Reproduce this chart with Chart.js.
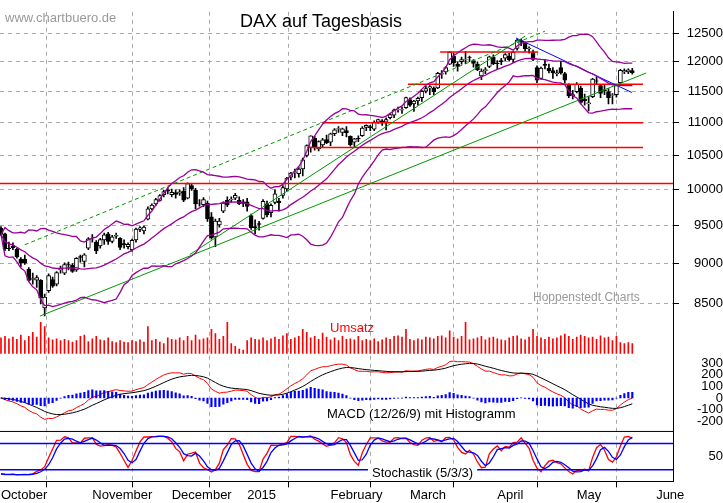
<!DOCTYPE html>
<html>
<head>
<meta charset="utf-8">
<script src="https://cdn.jsdelivr.net/npm/chart.js@4"></script>
<style>
  body { margin: 0; background: #fff; }
  #wrap { width: 723px; height: 503px; }
</style>
</head>
<body>
<div id="wrap"><canvas id="c" width="723" height="503"></canvas></div>
<script>
// trading days Oct 1 2014 .. May 22 2015 (index 0..159)
const opens = [
  // Oct
  9470,9390,9200,9230,9190,9060,9060,8930,8800,8790,8790,8450,8660,8800,8740,8920,8880,8990,8980,8920,9090,9030,9200,
  // Nov
  9320,9280,9230,9310,9390,9290,9360,9330,9260,9220,9180,9310,9450,9430,9590,9730,9800,9850,9930,9990,
  // Dec
  9930,9960,9950,9980,9880,10060,9990,9800,9790,9810,9620,9350,9510,9700,9850,9860,9880,9850,9830,
  // Jan
  9830,9640,9490,9530,9600,9800,9680,9820,9840,9920,10010,10180,10250,10230,10300,10500,10620,10760,10600,10660,10740,
  // Feb
  10700,10830,10900,10850,10880,10790,10700,10760,10800,10930,10940,10900,11010,11030,11010,11080,11120,11210,11200,11240,
  // Mar
  11370,11300,11350,11400,11510,11560,11560,11560,11790,11830,11960,12100,11960,12000,12030,12080,12020,11960,11760,11850,11920,12080,
  // Apr
  11980,12020,12060,12100,12040,12230,12370,12330,12220,12160,11900,11720,11960,11890,11850,11800,11900,11800,11610,11430,
  // May
  11500,11560,11380,11300,11420,11680,11600,11530,11500,11440,11450,11650,11830,11830,11850
];
const highs = [
  9490,9400,9280,9270,9200,9080,9110,8950,8880,8850,8800,8620,8870,8830,8900,8970,9010,9020,9000,9080,9110,9130,9340,
  9380,9300,9330,9400,9410,9370,9400,9340,9310,9270,9320,9470,9490,9500,9760,9800,9880,9930,9990,10030,
  10010,10000,10000,10030,10100,10090,10020,9860,9890,9840,9680,9590,9600,9830,9900,9900,9950,9900,9860,
  9880,9660,9580,9560,9860,9840,9800,10000,9880,10060,10180,10250,10300,10320,10460,10660,10800,10790,10720,10760,10810,
  10840,10910,10940,10920,10940,10800,10760,10800,10940,10970,10960,11030,11060,11050,11080,11140,11220,11250,11250,11410,
  11400,11360,11410,11520,11590,11600,11580,11820,11850,11920,12170,12150,12000,12080,12180,12100,12040,12000,11880,11900,12100,12120,
  12020,12060,12140,12150,12180,12390,12390,12340,12260,12200,11930,11910,12040,11960,11900,11860,12010,11820,11630,11520,
  11650,11590,11460,11420,11720,11750,11620,11610,11550,11470,11620,11870,11880,11880,11890
];
const lows = [
  9370,9170,9170,9180,9070,8960,8990,8780,8740,8700,8500,8355,8640,8700,8720,8880,8860,8920,8890,8900,9020,8960,9180,
  9280,9130,9200,9250,9250,9270,9330,9180,9200,9190,9160,9280,9420,9390,9580,9720,9780,9840,9900,9940,
  9900,9880,9920,9830,9870,9990,9730,9770,9760,9560,9320,9220,9480,9680,9760,9820,9860,9790,9760,
  9700,9450,9390,9440,9590,9620,9620,9800,9700,9880,9980,10140,10170,10180,10200,10480,10550,10580,10570,10620,10680,
  10650,10800,10850,10800,10780,10640,10620,10710,10790,10880,10880,10880,10990,10960,10890,11060,11080,11170,11150,11230,
  11260,11180,11280,11340,11480,11450,11450,11550,11720,11790,11950,11920,11840,11960,11970,12000,11910,11850,11700,11800,11900,11950,
  11880,11950,12020,12010,11990,12200,12280,12180,12150,12020,11650,11710,11880,11810,11720,11760,11790,11640,11400,11380,
  11480,11300,11280,11190,11400,11620,11400,11450,11300,11300,11410,11640,11800,11800,11790
];
const closes = [
  9382,9195,9196,9209,9086,9005,9005,8788,8812,8825,8572,8582,8850,8717,8887,8940,8987,8988,8902,9068,9082,9114,9326,
  9325,9166,9315,9377,9291,9351,9370,9210,9248,9252,9306,9456,9473,9483,9733,9785,9861,9916,9974,9980,
  9963,9934,9971,9851,10087,10014,9799,9799,9862,9594,9335,9563,9564,9811,9787,9865,9922,9805,9806,
  9765,9473,9469,9518,9837,9648,9781,9941,9817,10032,10167,10242,10257,10299,10435,10649,10798,10628,10710,10738,10694,
  10828,10891,10911,10905,10846,10664,10753,10752,10920,10963,10924,11014,11050,11002,11051,11131,11206,11211,11210,11402,
  11280,11345,11390,11504,11551,11582,11500,11806,11799,11901,12168,11980,11922,12037,12040,12077,11973,11865,11843,11869,12086,11967,
  11968,12002,12124,12036,12166,12375,12339,12228,12231,12039,11688,11892,11939,11847,11811,11811,11811,11689,11432,11454,
  11622,11327,11350,11317,11709,11673,11472,11511,11401,11448,11598,11853,11849,11864,11815
];
const volume = [
  55,60,52,58,50,65,45,60,75,58,110,95,55,48,52,45,50,45,40,45,60,65,42,
  52,60,48,45,55,42,38,45,40,38,45,42,48,40,95,45,50,40,35,55,
  50,48,55,45,60,45,65,48,52,55,85,70,50,60,110,35,25,15,12,
  45,55,50,48,55,45,52,58,50,62,70,50,55,60,85,75,55,60,50,72,58,
  48,55,45,60,50,52,48,60,45,50,45,52,42,48,55,50,60,62,58,85,
  50,45,52,48,58,55,52,60,62,55,80,58,52,60,110,48,52,55,60,48,55,58,
  52,48,45,55,60,62,52,48,58,85,60,55,50,58,52,55,62,68,60,50,
  58,65,60,55,58,50,62,55,58,45,60,38,35,38,35
];
const monthTicks = [0, 23, 43, 62, 83, 103, 125, 145, 165];
const monthLabels = ['October', 'November', 'December', '2015', 'February', 'March', 'April', 'May', 'June'];
const priceTicks = [8500, 9000, 9500, 10000, 10500, 11000, 11500, 12000, 12500];
const macdTicks = [300, 200, 100, 0, -100, -200];
const stochTicks = [50];

// trend lines and support levels: [x1, y1, x2, y2]
const greenLines = [[9.8, 8352, 162.5, 11810], [47.6, 9119, 132, 12448]];
const greenDashed = [6, 9246, 137, 12535];
const blueLine = [129.7, 12414, 158.9, 11486];
const redLevels = [[-0.25, 169.25, 10090], [77.1, 161.7, 10620], [80.9, 161.7, 11000],
                   [102.5, 161.7, 11620], [110.6, 135.3, 12170]];

// indicators
const n = closes.length;
const bbMid = [], bbUp = [], bbLo = [];
for (let i = 0; i < n; i++) {
    const w = closes.slice(Math.max(0, i - 19), i + 1);
    const m = w.reduce((a, b) => a + b, 0) / w.length;
    const sd = Math.sqrt(w.reduce((a, b) => a + (b - m) * (b - m), 0) / w.length);
    bbMid.push({x: i, y: m});
    bbUp.push({x: i, y: m + 2 * sd});
    bbLo.push({x: i, y: m - 2 * sd});
}
function ema(arr, p) {
    const k = 2 / (p + 1), out = [arr[0]];
    for (let i = 1; i < arr.length; i++) out.push(arr[i] * k + out[i - 1] * (1 - k));
    return out;
}
const e12 = ema(closes, 12), e26 = ema(closes, 26);
const macd = e12.map((v, i) => v - e26[i]);
const signal = ema(macd, 9);
const kRaw = [];
for (let i = 0; i < n; i++) {
    const s = Math.max(0, i - 4);
    const hh = Math.max(...highs.slice(s, i + 1)), ll = Math.min(...lows.slice(s, i + 1));
    kRaw.push(hh === ll ? 50 : (closes[i] - ll) / (hh - ll) * 100);
}
function sma(arr, p) {
    return arr.map((v, i) => { const w = arr.slice(Math.max(0, i - p + 1), i + 1); return w.reduce((a, b) => a + b, 0) / w.length; });
}
const stochK = sma(kRaw, 3), stochD = sma(stochK, 3);

const purple = '#990099';
const seg = (a) => [{x: a[0], y: a[1]}, {x: a[2], y: a[3]}];
const line = (data, color, axis, extra) => Object.assign({
    type: 'line', data: data, borderColor: color, borderWidth: 1, pointRadius: 0,
    yAxisID: axis, tension: 0, order: 1
}, extra || {});

const datasets = [];
datasets.push({type: 'bar', data: closes.map((c, i) => ({x: i, y: [lows[i], highs[i]]})),
    backgroundColor: '#000', barThickness: 1, grouped: false, yAxisID: 'y', order: 3});
datasets.push({type: 'bar', data: closes.map((c, i) => ({x: i, y: [Math.min(opens[i], c), Math.max(opens[i], c)]})),
    backgroundColor: closes.map((c, i) => c >= opens[i] ? '#fff' : '#000'),
    borderColor: '#000', borderWidth: 1, borderSkipped: false, barThickness: 4, grouped: false, yAxisID: 'y', order: 2});
datasets.push(line(bbUp, purple, 'y', {borderWidth: 1.3}));
datasets.push(line(bbMid, purple, 'y', {borderWidth: 1.3}));
datasets.push(line(bbLo, purple, 'y', {borderWidth: 1.3}));
greenLines.forEach(g => datasets.push(line(seg(g), '#009900', 'y')));
datasets.push(line(seg(greenDashed), '#009900', 'y', {borderDash: [4, 3]}));
datasets.push(line(seg(blueLine), '#0000ff', 'y'));
redLevels.forEach(r => datasets.push(line([{x: r[0], y: r[2]}, {x: r[1], y: r[2]}], '#ff0000', 'y', {borderWidth: 1.5})));
datasets.push({type: 'bar', data: volume.map((v, i) => ({x: i, y: v})), backgroundColor: '#ff0000',
    barThickness: 1, grouped: false, yAxisID: 'yv'});
datasets.push({type: 'bar', data: macd.map((v, i) => ({x: i, y: (v - signal[i])})), backgroundColor: '#0000ff',
    barThickness: 1.5, grouped: false, yAxisID: 'ym'});
datasets.push(line(signal.map((v, i) => ({x: i, y: v})), '#000', 'ym'));
datasets.push(line(macd.map((v, i) => ({x: i, y: v})), '#ff0000', 'ym'));
datasets.push(line([{x: -0.25, y: 80}, {x: 169.25, y: 80}], '#0000ff', 'ys', {borderWidth: 1.5}));
datasets.push(line([{x: -0.25, y: 20}, {x: 169.25, y: 20}], '#0000ff', 'ys', {borderWidth: 1.5}));
datasets.push(line(stochD.map((v, i) => ({x: i, y: v})), '#0000ff', 'ys', {borderWidth: 1.3}));
datasets.push(line(stochK.map((v, i) => ({x: i, y: v})), '#ff0000', 'ys', {borderWidth: 1.3}));

const tickFont = {family: 'Liberation Sans, Arial', size: 13};
const rightAxis = (extra) => Object.assign({
    position: 'right', stack: 'panels', offset: false,
    border: {display: true, color: '#000'},
    ticks: {color: '#000', font: tickFont, crossAlign: 'far', padding: 4, autoSkip: false},
    afterFit: s => { s.width = 50; }
}, extra);

const overlay = {
    id: 'overlay',
    beforeDraw(chart) {
        const c = chart.ctx;
        c.save(); c.fillStyle = '#fff'; c.fillRect(0, 0, chart.width, chart.height); c.restore();
    },
    afterDraw(chart) {
        const c = chart.ctx, a = chart.chartArea, ys = chart.scales.ys;
        c.save();
        c.strokeStyle = '#000'; c.lineWidth = 1;
        c.beginPath(); c.moveTo(a.left, ys.top + 0.5); c.lineTo(a.right, ys.top + 0.5); c.stroke();
        c.textBaseline = 'alphabetic';
        c.fillStyle = '#000'; c.font = '18px Liberation Sans, Arial';
        c.fillText('DAX auf Tagesbasis', 240, 27);
        c.fillStyle = '#999'; c.font = '13px Liberation Sans, Arial';
        c.fillText('www.chartbuero.de', 5, 22);
        c.font = '12px Liberation Sans, Arial';
        c.fillText('Hoppenstedt Charts', 533, 301);
        c.fillStyle = '#ff0000'; c.font = '13px Liberation Sans, Arial';
        c.fillText('Umsatz', 330, 332);
        c.fillStyle = '#000';
        c.fillText('MACD (12/26/9) mit Histogramm', 327, 418);
        const t = 'Stochastik (5/3/3)', w = c.measureText(t).width;
        c.fillStyle = '#fff'; c.fillRect(368, 465, w + 8, 14);
        c.fillStyle = '#000'; c.fillText(t, 372, 477);
        c.restore();
    }
};

new Chart(document.getElementById('c'), {
    type: 'bar',
    data: {datasets: datasets},
    options: {
        responsive: false, animation: false, devicePixelRatio: 1,
        layout: {padding: 0},
        plugins: {legend: {display: false}, tooltip: {enabled: false}},
        scales: {
            x: {
                type: 'linear', min: -0.25, max: 169.25, offset: false,
                border: {display: true, color: '#000', dash: [4, 4]},
                grid: {color: '#aaa', tickColor: '#000', tickLength: 6, tickBorderDash: []},
                afterBuildTicks: s => { s.ticks = monthTicks.map(v => ({value: v})); },
                ticks: {color: '#000', font: tickFont, align: 'start', maxRotation: 0, autoSkip: false, padding: 0,
                    callback: (v) => monthLabels[monthTicks.indexOf(v)] || ''}
            },
            y: rightAxis({type: 'logarithmic', min: 8302, max: 12886, stackWeight: 318,
                border: {display: true, color: '#000', dash: [4, 4]},
                grid: {color: '#aaa', tickColor: '#000', tickBorderDash: [], tickLength: 6},
                afterBuildTicks: s => { s.ticks = priceTicks.map(v => ({value: v})); },
                ticks: {color: '#000', font: tickFont, crossAlign: 'far', padding: 4, autoSkip: false, callback: v => String(v)}}),
            yv: rightAxis({min: -10, max: 117, stackWeight: 37, grid: {display: false},
                ticks: {display: false}}),
            ym: rightAxis({min: -283, max: 358, stackWeight: 77, grid: {display: false},
                afterBuildTicks: s => { s.ticks = macdTicks.map(v => ({value: v})); }}),
            ys: rightAxis({min: -7, max: 109, stackWeight: 52, grid: {display: false},
                afterBuildTicks: s => { s.ticks = stochTicks.map(v => ({value: v})); }})
        }
    },
    plugins: [overlay]
});
</script>
</body>
</html>
